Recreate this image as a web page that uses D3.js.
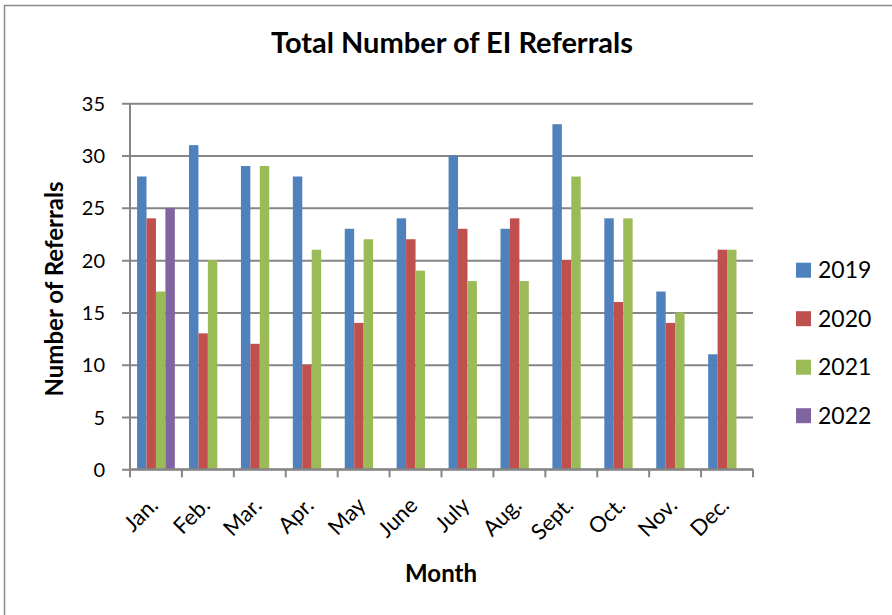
<!DOCTYPE html>
<html>
<head>
<meta charset="utf-8">
<script src="https://cdn.jsdelivr.net/npm/d3@7"></script>
<style>
  body { margin: 0; background: #fff; }
  text { font-family: Lato, "Open Sans", sans-serif; fill: #000; }
</style>
</head>
<body>
<div id="chart"></div>
<script>
// data
const months = ['Jan.', 'Feb.', 'Mar.', 'Apr.', 'May', 'June', 'July', 'Aug.', 'Sept.', 'Oct.', 'Nov.', 'Dec.'];
const years = ['2019', '2020', '2021', '2022'];
const v2019 = [28, 31, 29, 28, 23, 24, 30, 23, 33, 24, 17, 11];
const v2020 = [24, 13, 12, 10, 14, 22, 23, 24, 20, 16, 14, 21];
const v2021 = [17, 20, 29, 21, 22, 19, 18, 18, 28, 24, 15, 21];
const v2022 = [25, null, null, null, null, null, null, null, null, null, null, null];
const yTicks = [0, 5, 10, 15, 20, 25, 30, 35];

const colors = ['#4F81BD', '#C0504D', '#9BBB59', '#8064A2'];
const series = [v2019, v2020, v2021, v2022];

const width = 892, height = 615;
const plot = {left: 130, right: 753, top: 103.3, bottom: 469.3};

let svg = d3.select('#chart')
    .append('svg')
    .attr('width', width)
    .attr('height', height);

// outer frame (only top/left visible in the picture)
svg.append('rect')
    .attr('x', 4.5).attr('y', 5.5)
    .attr('width', 1000).attr('height', 1000)
    .attr('fill', 'none')
    .attr('stroke', '#8c8c8c')
    .attr('stroke-width', 1.5);

let x = d3.scaleBand()
    .domain(months)
    .range([plot.left, plot.right])
    .paddingInner(0)
    .paddingOuter(0);

// 4 slots per month, gap 150% of a bar
let bw = x.bandwidth() / (years.length + 1.5);
let xs = d3.scaleBand()
    .domain(years)
    .range([0.75 * bw, 0.75 * bw + years.length * bw]);

let y = d3.scaleLinear()
    .domain([0, 35])
    .range([plot.bottom, plot.top]);

// gridlines + y labels
let yAxis = d3.axisLeft(y)
    .tickValues(yTicks)
    .tickSize(-(plot.right - plot.left) - 8);

let gy = svg.append('g')
    .attr('transform', 'translate(' + (plot.left - 8) + ',0)')
    .call(yAxis);
gy.select('.domain').remove();
gy.selectAll('.tick line')
    .attr('stroke', '#868686')
    .attr('stroke-width', 2)
    .attr('x1', 0);
gy.selectAll('.tick text')
    .attr('x', -17)
    .attr('dy', '0.35em')
    .style('font-family', 'Lato, sans-serif')
    .style('font-size', '20px')
    .attr('fill', '#000');

// bars
let groups = svg.append('g')
    .selectAll('g')
    .data(series)
    .enter()
    .append('g')
    .attr('fill', function(d, i) { return colors[i]; });

groups.selectAll('rect')
    .data(function(d, i) {
        return d.map(function(v, j) { return {month: months[j], year: years[i], value: v}; })
            .filter(function(o) { return o.value !== null; });
    })
    .enter()
    .append('rect')
    .attr('x', function(d) { return x(d.month) + xs(d.year); })
    .attr('width', xs.bandwidth())
    .attr('y', function(d) { return y(d.value); })
    .attr('height', function(d) { return y(0) - y(d.value); });

// axes lines
svg.append('line')
    .attr('x1', plot.left).attr('x2', plot.left)
    .attr('y1', plot.top).attr('y2', plot.bottom)
    .attr('stroke', '#868686').attr('stroke-width', 2);

let xAxis = d3.axisBottom(x).tickSize(0).tickFormat('');
let gx = svg.append('g')
    .attr('transform', 'translate(0,' + plot.bottom + ')')
    .call(xAxis);
gx.select('.domain').attr('stroke', '#868686').attr('stroke-width', 2)
    .attr('d', 'M' + plot.left + ',0H' + plot.right);

// tick marks at category boundaries
let bounds = months.map(function(m) { return x(m); }).concat([plot.right]);
svg.append('g')
    .selectAll('line')
    .data(bounds)
    .enter()
    .append('line')
    .attr('x1', function(d) { return d; })
    .attr('x2', function(d) { return d; })
    .attr('y1', plot.bottom)
    .attr('y2', plot.bottom + 8)
    .attr('stroke', '#868686')
    .attr('stroke-width', 2);

// rotated month labels
svg.append('g')
    .selectAll('text')
    .data(months)
    .enter()
    .append('text')
    .attr('text-anchor', 'end')
    .attr('transform', function(d) {
        return 'translate(' + (x(d) + x.bandwidth() / 2 - 2) + ',' + (plot.bottom + 32) + ') rotate(-45)';
    })
    .attr('dy', '0.35em')
    .style('font-size', '22px')
    .text(function(d) { return d; });

// titles
svg.append('text')
    .attr('x', 452).attr('y', 53)
    .attr('text-anchor', 'middle')
    .style('font-size', '29px')
    .style('font-weight', 'bold')
    .text('Total Number of EI Referrals');

svg.append('text')
    .attr('x', 441).attr('y', 582)
    .attr('text-anchor', 'middle')
    .style('font-size', '24px')
    .style('font-weight', 'bold')
    .text('Month');

svg.append('text')
    .attr('transform', 'translate(63,289) rotate(-90)')
    .attr('text-anchor', 'middle')
    .style('font-size', '24px')
    .style('font-weight', 'bold')
    .text('Number of Referrals');

// legend
let legend = svg.append('g')
    .selectAll('g')
    .data(years)
    .enter()
    .append('g')
    .attr('transform', function(d, i) { return 'translate(796,' + (262.7 + i * 48.5) + ')'; });

legend.append('rect')
    .attr('width', 15).attr('height', 15)
    .attr('fill', function(d, i) { return colors[i]; });

legend.append('text')
    .attr('x', 22).attr('y', 7.5)
    .attr('dy', '0.36em')
    .style('font-size', '23px')
    .text(function(d) { return d; });
</script>
</body>
</html>
